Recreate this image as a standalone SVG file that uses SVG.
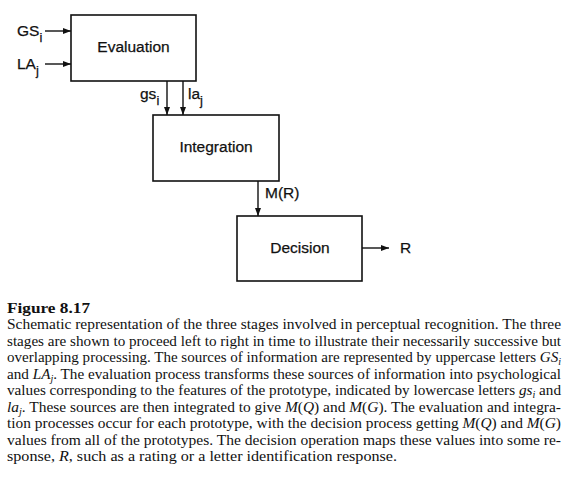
<svg xmlns="http://www.w3.org/2000/svg" width="571" height="486" viewBox="0 0 571 486">
<defs>
<marker id="ah" markerWidth="8" markerHeight="6" refX="8" refY="3" orient="auto" markerUnits="userSpaceOnUse">
<path d="M0,0 L8,3 L0,6 z" fill="#111"/>
</marker>
<style>
.box{fill:#fff;stroke:#111;stroke-width:1.6}
.lbl{font-family:"Liberation Sans",Arial,sans-serif;font-size:15.5px;fill:#111;stroke:#111;stroke-width:0.25}
.sub{font-size:13px}
.conn{stroke:#111;stroke-width:1.4;fill:none;marker-end:url(#ah)}
.cap{font-family:"Liberation Serif","Times New Roman",serif;font-size:15px;fill:#111}
.fig{font-family:"Liberation Serif","Times New Roman",serif;font-size:15px;font-weight:bold;fill:#111}
.it{font-style:italic}
</style>
</defs>
<rect width="571" height="486" fill="#fff"/>
<g id="connectors">
<line class="conn" x1="45" y1="31" x2="71" y2="31"/>
<line class="conn" x1="45" y1="64" x2="71" y2="64"/>
<line class="conn" x1="167" y1="81" x2="167" y2="115"/>
<line class="conn" x1="183" y1="81" x2="183" y2="115"/>
<line class="conn" x1="258" y1="181" x2="258" y2="216"/>
<line class="conn" x1="362" y1="248" x2="389" y2="248"/>
<text class="lbl" x="17" y="36">GS<tspan class="sub" dy="6">i</tspan></text>
<text class="lbl" x="17" y="69">LA<tspan class="sub" dy="6">j</tspan></text>
<text class="lbl" x="140" y="99">gs<tspan class="sub" dy="6">i</tspan></text>
<text class="lbl" x="188" y="99">la<tspan class="sub" dy="6">j</tspan></text>
<text class="lbl" x="265" y="198">M(R)</text>
<text class="lbl" x="400" y="253">R</text>
</g>
<g id="evaluation">
<rect class="box" x="71" y="15" width="125" height="66"/>
<text class="lbl" x="133.5" y="52" text-anchor="middle">Evaluation</text>
</g>
<g id="integration">
<rect class="box" x="153" y="115" width="126" height="66"/>
<text class="lbl" x="216" y="152" text-anchor="middle">Integration</text>
</g>
<g id="decision">
<rect class="box" x="237" y="216" width="125" height="65"/>
<text class="lbl" x="300" y="253" text-anchor="middle">Decision</text>
</g>
<g id="caption">
<text class="fig" x="7" y="313" textLength="83" lengthAdjust="spacingAndGlyphs">Figure 8.17</text>
<text class="cap" x="7" y="329" textLength="554" lengthAdjust="spacingAndGlyphs">Schematic representation of the three stages involved in perceptual recognition. The three</text>
<text class="cap" x="7" y="345.5" textLength="554" lengthAdjust="spacingAndGlyphs">stages are shown to proceed left to right in time to illustrate their necessarily successive but</text>
<text class="cap" x="7" y="362" textLength="554" lengthAdjust="spacingAndGlyphs">overlapping processing. The sources of information are represented by uppercase letters <tspan class="it">GS<tspan font-size="10" dy="3">i</tspan></tspan></text>
<text class="cap" x="7" y="378.5" textLength="554" lengthAdjust="spacingAndGlyphs">and <tspan class="it">LA<tspan font-size="10" dy="3">j</tspan></tspan><tspan dy="-3">. The evaluation process transforms these sources of information into psychological</tspan></text>
<text class="cap" x="7" y="395" textLength="554" lengthAdjust="spacingAndGlyphs">values corresponding to the features of the prototype, indicated by lowercase letters <tspan class="it">gs<tspan font-size="10" dy="3">i</tspan></tspan><tspan dy="-3"> and</tspan></text>
<text class="cap" x="7" y="411.5" textLength="554" lengthAdjust="spacingAndGlyphs"><tspan class="it">la<tspan font-size="10" dy="3">j</tspan></tspan><tspan dy="-3">. These sources are then integrated to give </tspan><tspan class="it">M</tspan>(<tspan class="it">Q</tspan>) and <tspan class="it">M</tspan>(<tspan class="it">G</tspan>). The evaluation and integra-</text>
<text class="cap" x="7" y="428" textLength="554" lengthAdjust="spacingAndGlyphs">tion processes occur for each prototype, with the decision process getting <tspan class="it">M</tspan>(<tspan class="it">Q</tspan>) and <tspan class="it">M</tspan>(<tspan class="it">G</tspan>)</text>
<text class="cap" x="7" y="444.5" textLength="554" lengthAdjust="spacingAndGlyphs">values from all of the prototypes. The decision operation maps these values into some re-</text>
<text class="cap" x="7" y="461" textLength="390" lengthAdjust="spacingAndGlyphs">sponse, <tspan class="it">R</tspan>, such as a rating or a letter identification response.</text>
</g>
</svg>
